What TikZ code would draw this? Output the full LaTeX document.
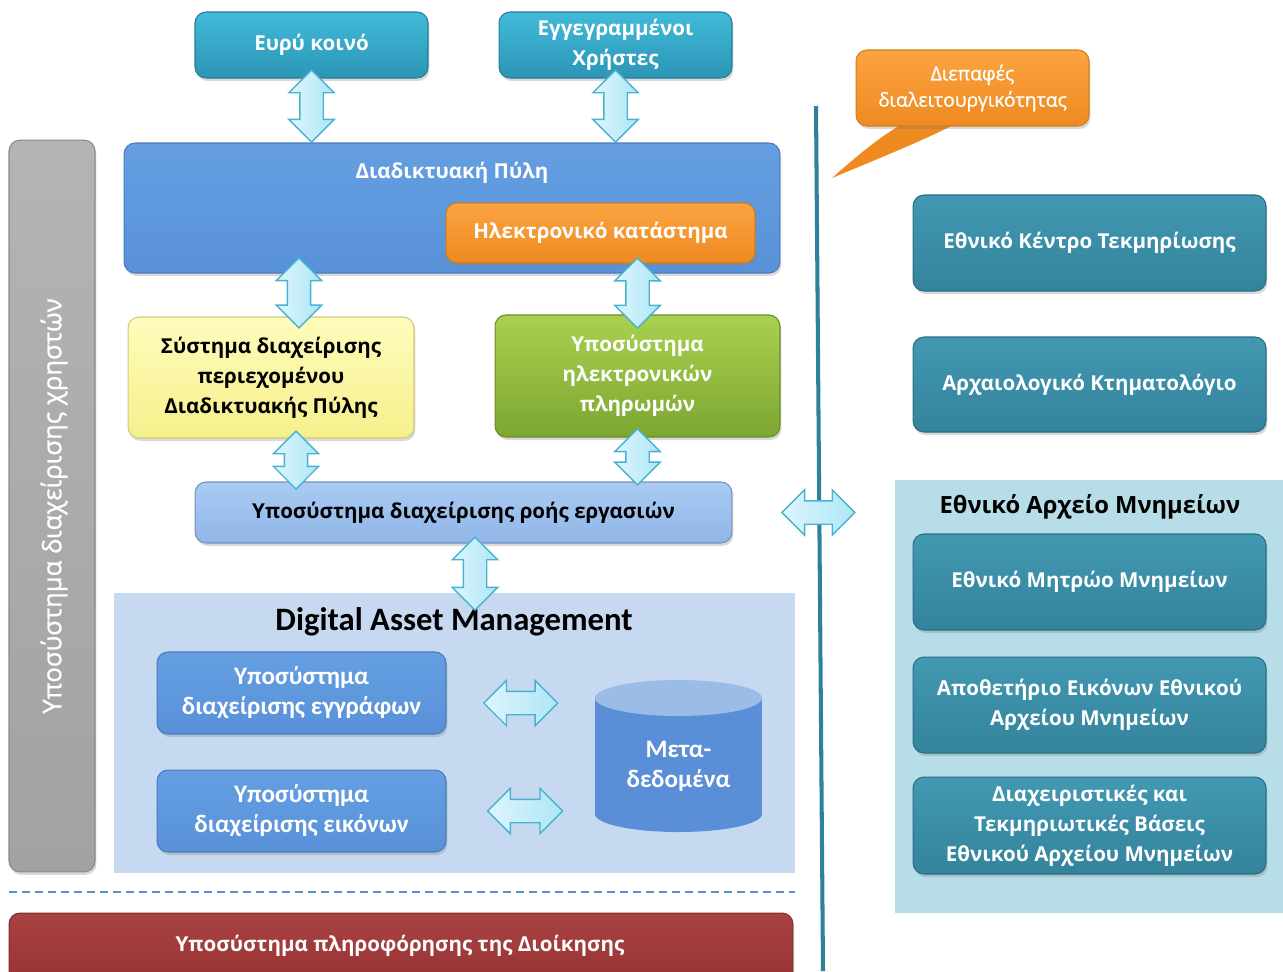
\documentclass[tikz,border=0pt]{standalone}
\usepackage{fontspec}
\setmainfont{Open Sans}
\newfontfamily\calfont{Carlito}
\newfontface\medfont{Open Sans}[FakeBold=1]
\usetikzlibrary{shapes.arrows,shadows,calc}

\definecolor{tealA}{HTML}{42BAD9}
\definecolor{tealB}{HTML}{2C95B6}
\definecolor{dtealA}{HTML}{4298B2}
\definecolor{dtealB}{HTML}{34839C}
\definecolor{blueA}{HTML}{659FE2}
\definecolor{blueB}{HTML}{5891D8}
\definecolor{orangeA}{HTML}{FBA442}
\definecolor{orangeB}{HTML}{EE8A20}
\definecolor{grayA}{HTML}{B4B4B4}
\definecolor{grayB}{HTML}{A2A2A2}
\definecolor{yellowA}{HTML}{FEFCBC}
\definecolor{yellowB}{HTML}{F6F08C}
\definecolor{greenA}{HTML}{A9D14F}
\definecolor{greenB}{HTML}{7DA631}
\definecolor{lightA}{HTML}{A9CBF3}
\definecolor{lightB}{HTML}{90B6E8}
\definecolor{redA}{HTML}{A94242}
\definecolor{redB}{HTML}{983333}
\definecolor{dampanel}{HTML}{C6D9F0}
\definecolor{nampanel}{HTML}{B7DDE8}
\definecolor{cylbody}{HTML}{5A8ED6}
\definecolor{cyltop}{HTML}{9ABCE6}
\definecolor{arrtop}{HTML}{DDF6FD}
\definecolor{arrbot}{HTML}{AEE5F6}
\definecolor{arrline}{HTML}{47B3D1}
\definecolor{divline}{HTML}{2F8099}

\newcommand{\boxfont}{\bfseries\fontsize{11.7}{17}\selectfont}
\newcommand{\damfont}{\calfont\bfseries\fontsize{14.3}{17}\selectfont}

\tikzset{
  blk/.style={rounded corners=0.22cm, inner sep=0pt, align=center, text=white,
    font=\boxfont, line width=0.6pt,
    drop shadow={shadow xshift=0.03cm, shadow yshift=-0.06cm, opacity=0.3}},
  tealbox/.style={blk, top color=tealA, bottom color=tealB, draw=tealB!85!black},
  dtealbox/.style={blk, top color=dtealA, bottom color=dtealB, draw=dtealB!85!black},
  bluebox/.style={blk, top color=blueA, bottom color=blueB, draw=blueB!85!black},
  orangebox/.style={blk, top color=orangeA, bottom color=orangeB, draw=orangeB!90!black},
  graybox/.style={blk, top color=grayA, bottom color=grayB, draw=grayB!85!black},
  yellowbox/.style={blk, top color=yellowA, bottom color=yellowB, draw=yellowB!85!black, text=black},
  greenbox/.style={blk, top color=greenA, bottom color=greenB, draw=greenB!85!black},
  lightbox/.style={blk, top color=lightA, bottom color=lightB, draw=lightB!80!black, text=black},
  redbox/.style={blk, top color=redA, bottom color=redB, draw=redB!85!black},
  panel/.style={inner sep=0pt, fill=#1},
  dblarr/.style={double arrow, double arrow head extend=0.22cm, inner xsep=0pt, inner ysep=0.22cm,
    draw=arrline, line width=0.8pt, left color=arrtop, right color=arrbot},
  dashline/.style={cylbody, line width=1.2pt, dash pattern=on 0.16cm off 0.1cm},
  divider/.style={divline, line width=2.3pt}
}

\begin{document}
\begin{tikzpicture}[x=0.02cm,y=-0.02cm]
\useasboundingbox (0,0) rectangle (1283,971);

% panels
\node[panel=dampanel, minimum width=13.62cm, minimum height=5.6cm] (dam) at (454.5,733) {};
\node[panel=nampanel, minimum width=7.9cm, minimum height=8.66cm] (nam) at (1092.5,696.5) {};

% users and portal
\node[tealbox, minimum width=4.66cm, minimum height=1.32cm] (eur) at (311.5,45) {Ευρύ κοινό};
\node[tealbox, minimum width=4.66cm, minimum height=1.32cm] (usr) at (615.5,45) {Εγγεγραμμένοι\\Χρήστες};
\node[bluebox, minimum width=13.12cm, minimum height=2.6cm] (pyli) at (452,208) {};
\node[text=white, font=\boxfont] (pylititle) at (452,173) {Διαδικτυακή Πύλη};
\node[orangebox, minimum width=6.18cm, minimum height=1.2cm] (shop) at (600.5,233) {Ηλεκτρονικό κατάστημα};

\node[graybox, minimum width=1.72cm, minimum height=14.64cm] (usrmgmt) at (52,506) {};
\node[rotate=90, text=white, font=\medfont\fontsize{14.6}{17}\selectfont] (usrmgmttext) at (54,506) {Υποσύστημα διαχείρισης χρηστών};

\node[yellowbox, minimum width=5.72cm, minimum height=2.42cm] (cms) at (271,377.5) {Σύστημα διαχείρισης\\περιεχομένου\\Διαδικτυακής Πύλης};
\node[greenbox, minimum width=5.7cm, minimum height=2.44cm] (pay) at (637.5,376) {Υποσύστημα\\ηλεκτρονικών\\πληρωμών};
\node[lightbox, minimum width=10.74cm, minimum height=1.22cm] (wf) at (463.5,512.5) {Υποσύστημα διαχείρισης ροής εργασιών};

% DAM
\node[font=\calfont\bfseries\fontsize{18.6}{22}\selectfont] (damtitle) at (454,622) {Digital Asset Management};
\node[bluebox, font=\damfont, minimum width=5.78cm, minimum height=1.64cm] (docs) at (301.5,693) {Υποσύστημα\\διαχείρισης εγγράφων};
\node[bluebox, font=\damfont, minimum width=5.78cm, minimum height=1.64cm] (imgs) at (301.5,811) {Υποσύστημα\\διαχείρισης εικόνων};

\fill[cylbody] (595,698) rectangle (762,814);
\fill[cylbody] (678.5,814) ellipse [x radius=83.5, y radius=18];
\fill[cyltop] (678.5,698) ellipse [x radius=83.5, y radius=18];
\node[font=\damfont, text=white, align=center] (meta) at (678.5,766) {Μετα-\\δεδομένα};
\coordinate (cylw) at (595,756);

\draw[dashline] (9,892) -- (795,892);
\node[redbox, minimum width=15.68cm, minimum height=1.44cm] (mis) at (401,949) {};
\node[text=white, font=\boxfont] (mistext) at (400,946) {Υποσύστημα πληροφόρησης της Διοίκησης};

% interoperability
\draw[divider] (816,106) -- (823,971);
\fill[orangeB] (902,124) .. controls (875,140) and (850,162) .. (832,178) .. controls (870,162) and (925,140) .. (955,124) -- cycle;
\node[orangebox, font=\medfont\fontsize{11}{15}\selectfont, minimum width=4.66cm, minimum height=1.52cm] (iop) at (972.5,88) {Διεπαφές\\διαλειτουργικότητας};

\node[dtealbox, minimum width=7.06cm, minimum height=1.92cm] (ekt) at (1089.5,243) {Εθνικό Κέντρο Τεκμηρίωσης};
\node[dtealbox, minimum width=7.06cm, minimum height=1.9cm] (ktim) at (1089.5,384.5) {Αρχαιολογικό Κτηματολόγιο};
\node[font=\bfseries\fontsize{13.5}{17}\selectfont] (namtitle) at (1090,507) {Εθνικό Αρχείο Μνημείων};
\node[dtealbox, minimum width=7.06cm, minimum height=1.92cm] (emm) at (1089.5,582) {Εθνικό Μητρώο Μνημείων};
\node[dtealbox, minimum width=7.06cm, minimum height=1.92cm] (apo) at (1089.5,705) {Αποθετήριο Εικόνων Εθνικού\\Αρχείου Μνημείων};
\node[dtealbox, minimum width=7.06cm, minimum height=1.94cm] (dtb) at (1089.5,825.5) {Διαχειριστικές και\\Τεκμηριωτικές Βάσεις\\Εθνικού Αρχείου Μνημείων};

% block arrows
\path (eur.south) -- (eur.south |- pyli.north) node[dblarr, pos=0.43, sloped, minimum height=1.44cm] (a1) {};
\path (usr.south) -- (usr.south |- pyli.north) node[dblarr, pos=0.43, sloped, minimum height=1.44cm] (a2) {};
\path ([xshift=0.56cm]cms.north |- pyli.south) -- ([xshift=0.56cm]cms.north) node[dblarr, pos=0.45, sloped, minimum height=1.4cm] (a3) {};
\path (pay.north |- shop.south) -- (pay.north) node[dblarr, pos=0.58, sloped, minimum height=1.4cm] (a4) {};
\path ([xshift=0.5cm]cms.south) -- ([xshift=0.5cm]cms.south |- wf.north) node[dblarr, midway, sloped, minimum height=1.16cm] (a5) {};
\path (pay.south) -- (pay.south |- wf.north) node[dblarr, pos=0.44, sloped, minimum height=1.12cm] (a6) {};
\path ([xshift=0.23cm]wf.south) -- ([xshift=0.23cm]wf.south |- dam.north) node[dblarr, pos=0.61, sloped, minimum height=1.46cm] (a7) {};
\path ([yshift=-0.2cm]docs.east) -- ([yshift=-0.2cm]docs.east -| cylw) node[dblarr, midway, minimum height=1.48cm] (a8) {};
\path (imgs.east) -- (imgs.east -| cylw) node[dblarr, pos=0.53, minimum height=1.5cm] (a9) {};
\path (wf.east) -- (wf.east -| nam.west) node[dblarr, pos=0.53, minimum height=1.46cm] (a10) {};
\end{tikzpicture}
\end{document}
